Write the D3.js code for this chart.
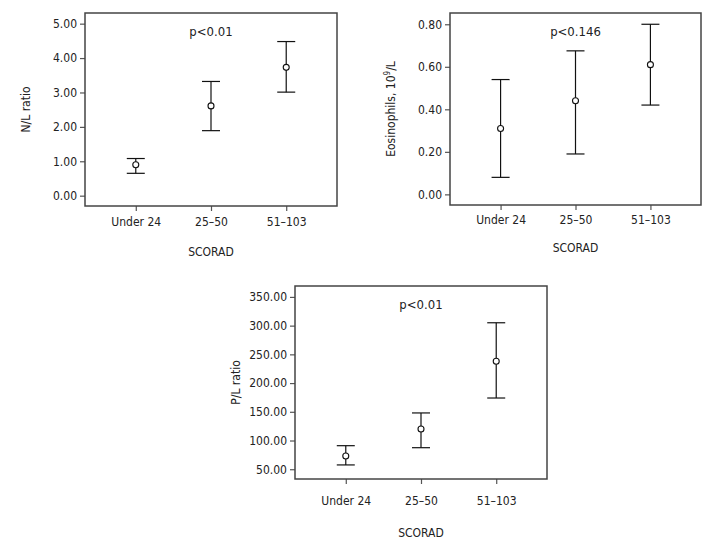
<!DOCTYPE html>
<html>
<head>
<meta charset="utf-8">
<script src="https://cdn.jsdelivr.net/npm/d3@7"></script>
<style>
  body { margin: 0; background: #fff; }
  text { font-family: "DejaVu Sans Condensed", "Liberation Sans Narrow", sans-serif; font-stretch: condensed; fill: #222; }
</style>
</head>
<body>
<svg width="720" height="555"></svg>
<script>
// data
const categories = ['Under 24', '25\u201350', '51\u2013103'];

const nlMean = [0.90, 2.61, 3.73];
const nlLow  = [0.65, 1.89, 3.01];
const nlHigh = [1.08, 3.32, 4.48];
const nlTicks = [0, 1, 2, 3, 4, 5];

const eosMean = [0.31, 0.44, 0.61];
const eosLow  = [0.08, 0.19, 0.42];
const eosHigh = [0.54, 0.675, 0.80];
const eosTicks = [0, 0.2, 0.4, 0.6, 0.8];

const plMean = [73, 120, 238];
const plLow  = [57.5, 87.5, 174];
const plHigh = [91, 148, 305];
const plTicks = [50, 100, 150, 200, 250, 300, 350];

const svg = d3.select('svg');

const drawPanel = cfg => {
    const { left, top, width, height } = cfg;

    const xScale = d3.scalePoint()
      .domain(categories)
      .range([0, width])
      .padding(0.675);

    const yScale = d3.scaleLinear()
      .domain(cfg.domain)
      .range([height, 0]);

    const g = svg.append('g')
      .attr('transform', `translate(${left}, ${top})`);

    // y axis
    const yAxisG = g.append('g')
      .call(d3.axisLeft(yScale).tickValues(cfg.ticks).tickFormat(d3.format('.2f')).tickSize(5).tickPadding(3));
    yAxisG.select('.domain').remove();
    yAxisG.selectAll('.tick line').attr('stroke', '#555').attr('stroke-width', 1.2);
    yAxisG.selectAll('.tick text').style('font-size', '12px').attr('fill', '#222');

    // x axis
    const xAxisG = g.append('g')
      .attr('transform', `translate(0, ${height})`)
      .call(d3.axisBottom(xScale).tickSize(5).tickPadding(cfg.xPad));
    xAxisG.select('.domain').remove();
    xAxisG.selectAll('.tick line').attr('stroke', '#555').attr('stroke-width', 1.2);
    xAxisG.selectAll('.tick text').style('font-size', '12px').attr('fill', '#222');

    // frame
    g.append('rect')
      .attr('width', width)
      .attr('height', height)
      .attr('fill', 'none')
      .attr('stroke', '#444')
      .attr('stroke-width', 1.5);

    // error bars
    const rows = categories.map((c, i) => ({
        cat: c, mean: cfg.mean[i], low: cfg.low[i], high: cfg.high[i]
    }));
    const capW = 9;
    const bars = g.selectAll('.bar').data(rows).enter().append('g').attr('class', 'bar');
    bars.append('line')
      .attr('x1', d => xScale(d.cat)).attr('x2', d => xScale(d.cat))
      .attr('y1', d => yScale(d.low)).attr('y2', d => yScale(d.high))
      .attr('stroke', '#111').attr('stroke-width', 1.2);
    bars.append('line')
      .attr('x1', d => xScale(d.cat) - capW).attr('x2', d => xScale(d.cat) + capW)
      .attr('y1', d => yScale(d.high)).attr('y2', d => yScale(d.high))
      .attr('stroke', '#111').attr('stroke-width', 1.2);
    bars.append('line')
      .attr('x1', d => xScale(d.cat) - capW).attr('x2', d => xScale(d.cat) + capW)
      .attr('y1', d => yScale(d.low)).attr('y2', d => yScale(d.low))
      .attr('stroke', '#111').attr('stroke-width', 1.2);
    bars.append('circle')
      .attr('cx', d => xScale(d.cat))
      .attr('cy', d => yScale(d.mean))
      .attr('r', 3)
      .attr('fill', '#fff')
      .attr('stroke', '#111')
      .attr('stroke-width', 1.1);

    // p value
    g.append('text')
      .attr('x', xScale(categories[1]))
      .attr('y', 18)
      .attr('text-anchor', 'middle')
      .attr('dominant-baseline', 'central')
      .style('font-size', '13px')
      .text(cfg.p);

    // axis titles
    g.append('text')
      .attr('transform', `translate(${-59}, ${height / 2}) rotate(-90)`)
      .attr('text-anchor', 'middle')
      .attr('dominant-baseline', 'central')
      .style('font-size', '12px')
      .html(cfg.yLabel);

    g.append('text')
      .attr('x', xScale(categories[1]))
      .attr('y', height + cfg.titleDy)
      .attr('text-anchor', 'middle')
      .attr('dominant-baseline', 'central')
      .style('font-size', '12px')
      .text('SCORAD');
};

drawPanel({
    left: 85, top: 13, width: 252, height: 193,
    domain: [-0.30, 5.31], ticks: nlTicks,
    mean: nlMean, low: nlLow, high: nlHigh,
    p: 'p<0.01', yLabel: 'N/L ratio', xPad: 6, titleDy: 46
});

drawPanel({
    left: 450, top: 13, width: 251, height: 192,
    domain: [-0.05, 0.853], ticks: eosTicks,
    mean: eosMean, low: eosLow, high: eosHigh,
    p: 'p<0.146', yLabel: 'Eosinophils, 10<tspan dy="-4" font-size="8">9</tspan><tspan dy="4">/L</tspan>', xPad: 5, titleDy: 43
});

drawPanel({
    left: 295, top: 286, width: 252, height: 193,
    domain: [33, 369], ticks: plTicks,
    mean: plMean, low: plLow, high: plHigh,
    p: 'p<0.01', yLabel: 'P/L ratio', xPad: 12, titleDy: 54
});
</script>
</body>
</html>
